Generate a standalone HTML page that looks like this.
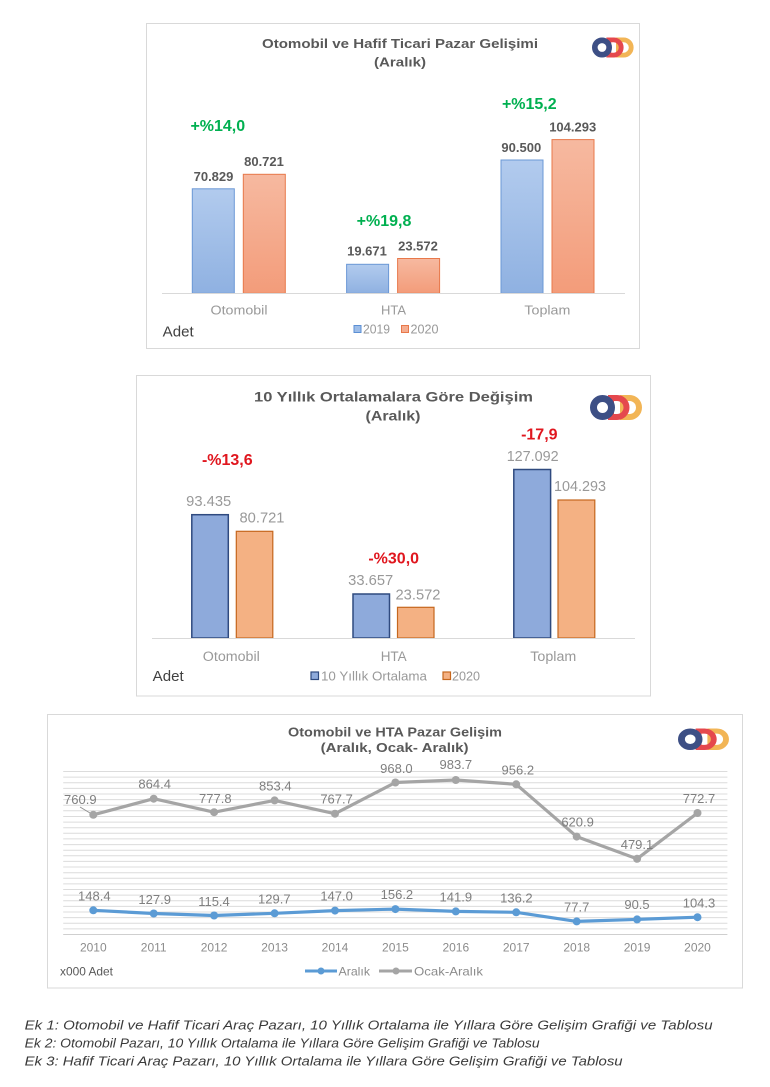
<!DOCTYPE html>
<html>
<head>
<meta charset="utf-8">
<style>
  html, body { margin: 0; padding: 0; background: #ffffff; }
  svg { display: block; }
  text { font-family: "Liberation Sans", "DejaVu Sans", sans-serif; }
</style>
</head>
<body>
<svg width="770" height="1087" viewBox="0 0 770 1087" xmlns="http://www.w3.org/2000/svg">
  <defs>
    <linearGradient id="gb" x1="0" y1="0" x2="0" y2="1">
      <stop offset="0" stop-color="#b2cbee"/>
      <stop offset="1" stop-color="#8fb1e1"/>
    </linearGradient>
    <linearGradient id="go" x1="0" y1="0" x2="0" y2="1">
      <stop offset="0" stop-color="#f6b9a0"/>
      <stop offset="1" stop-color="#f39c7a"/>
    </linearGradient>
    <g id="logo">
      <path d="M33 3 H39.5 A9.5 9.5 0 0 1 39.5 22 H33 Z" fill="none" stroke="#f2b556" stroke-width="6"/>
      <path d="M21 3 H27 A9.5 9.5 0 0 1 27 22 H21 Z" fill="none" stroke="#e5484d" stroke-width="6"/>
      <circle cx="12.5" cy="12.5" r="9" fill="none" stroke="#3d4f85" stroke-width="7"/>
    </g>
  </defs>

  <rect x="0" y="0" width="770" height="1087" fill="#ffffff"/>

  <!-- ================= CHART 1 ================= -->
  <rect x="146.5" y="23.5" width="493" height="325" fill="#ffffff" stroke="#d9d9d9" stroke-width="1"/>
  <text x="400" y="48" font-size="13" font-weight="bold" fill="#595959" text-anchor="middle" textLength="276" lengthAdjust="spacingAndGlyphs">Otomobil ve Hafif Ticari Pazar Gelişimi</text>
  <text x="400" y="66.5" font-size="13" font-weight="bold" fill="#595959" text-anchor="middle" textLength="52" lengthAdjust="spacingAndGlyphs">(Aralık)</text>
  <use href="#logo" transform="translate(592,37.5) scale(0.8)"/>

  <rect x="192.3" y="188.8" width="42" height="104.5" fill="url(#gb)" stroke="#6b98d6" stroke-width="1"/>
  <rect x="243.3" y="174.3" width="42" height="119" fill="url(#go)" stroke="#e8784a" stroke-width="1"/>
  <rect x="346.6" y="264.3" width="42" height="29" fill="url(#gb)" stroke="#6b98d6" stroke-width="1"/>
  <rect x="397.6" y="258.5" width="42" height="34.8" fill="url(#go)" stroke="#e8784a" stroke-width="1"/>
  <rect x="501" y="160" width="42" height="133.3" fill="url(#gb)" stroke="#6b98d6" stroke-width="1"/>
  <rect x="552" y="139.6" width="42" height="153.7" fill="url(#go)" stroke="#e8784a" stroke-width="1"/>
  <line x1="162" y1="293.5" x2="625" y2="293.5" stroke="#d9d9d9" stroke-width="1"/>

  <g font-size="13" font-weight="bold" fill="#595959" text-anchor="middle">
    <text x="213.5" y="181">70.829</text>
    <text x="264" y="166">80.721</text>
    <text x="367" y="255.3">19.671</text>
    <text x="418" y="250.6">23.572</text>
    <text x="521.3" y="152">90.500</text>
    <text x="572.7" y="131.3">104.293</text>
  </g>
  <g font-size="16" font-weight="bold" fill="#00b050" text-anchor="middle">
    <text x="217.8" y="130.8">+%14,0</text>
    <text x="384" y="225.8">+%19,8</text>
    <text x="529.3" y="109.1">+%15,2</text>
  </g>
  <g font-size="13" fill="#999999" text-anchor="middle">
    <text x="239" y="314.7" textLength="57" lengthAdjust="spacingAndGlyphs">Otomobil</text>
    <text x="393.5" y="314.7">HTA</text>
    <text x="547.4" y="314.7" textLength="46" lengthAdjust="spacingAndGlyphs">Toplam</text>
  </g>
  <text x="162.7" y="336.5" font-size="14.5" fill="#404040" textLength="31" lengthAdjust="spacingAndGlyphs">Adet</text>
  <rect x="354" y="325.5" width="7" height="7" fill="#9dbde8" stroke="#5b8fd4" stroke-width="1"/>
  <text x="363" y="333.5" font-size="12.5" fill="#999999" textLength="27" lengthAdjust="spacingAndGlyphs">2019</text>
  <rect x="401.5" y="325.5" width="7" height="7" fill="#f5ad90" stroke="#e8784a" stroke-width="1"/>
  <text x="410.5" y="333.5" font-size="12.5" fill="#999999" textLength="28" lengthAdjust="spacingAndGlyphs">2020</text>

  <!-- ================= CHART 2 ================= -->
  <rect x="136.5" y="375.5" width="514" height="320.5" fill="#ffffff" stroke="#d9d9d9" stroke-width="1"/>
  <text x="393.5" y="401.7" font-size="14" font-weight="bold" fill="#595959" text-anchor="middle" textLength="279" lengthAdjust="spacingAndGlyphs">10 Yıllık Ortalamalara  Göre Değişim</text>
  <text x="393" y="420.7" font-size="14" font-weight="bold" fill="#595959" text-anchor="middle" textLength="55" lengthAdjust="spacingAndGlyphs">(Aralık)</text>
  <use href="#logo" transform="translate(590,395)"/>

  <rect x="191.8" y="514.7" width="36.5" height="123.3" fill="#8eaadb" stroke="#2f4a7f" stroke-width="1.5"/>
  <rect x="236.3" y="531.3" width="36.5" height="106.7" fill="#f4b183" stroke="#c5671e" stroke-width="1.2"/>
  <rect x="353" y="594" width="36.5" height="44" fill="#8eaadb" stroke="#2f4a7f" stroke-width="1.5"/>
  <rect x="397.5" y="607.3" width="36.5" height="30.7" fill="#f4b183" stroke="#c5671e" stroke-width="1.2"/>
  <rect x="513.8" y="469.5" width="36.8" height="168.5" fill="#8eaadb" stroke="#2f4a7f" stroke-width="1.5"/>
  <rect x="558" y="500" width="36.8" height="138" fill="#f4b183" stroke="#c5671e" stroke-width="1.2"/>
  <line x1="152" y1="638.5" x2="635" y2="638.5" stroke="#d9d9d9" stroke-width="1"/>

  <g font-size="14.5" fill="#999999" text-anchor="middle">
    <text x="208.7" y="505.9" textLength="45" lengthAdjust="spacingAndGlyphs">93.435</text>
    <text x="262" y="522.5" textLength="45" lengthAdjust="spacingAndGlyphs">80.721</text>
    <text x="370.7" y="585.2" textLength="45" lengthAdjust="spacingAndGlyphs">33.657</text>
    <text x="418" y="599.5" textLength="45" lengthAdjust="spacingAndGlyphs">23.572</text>
    <text x="532.7" y="461.2" textLength="52" lengthAdjust="spacingAndGlyphs">127.092</text>
    <text x="580" y="491.2" textLength="52" lengthAdjust="spacingAndGlyphs">104.293</text>
  </g>
  <g font-size="16" font-weight="bold" fill="#e0161e" text-anchor="middle">
    <text x="227.3" y="465">-%13,6</text>
    <text x="393.7" y="563.5">-%30,0</text>
    <text x="539.3" y="439.7">-17,9</text>
  </g>
  <g font-size="13.5" fill="#999999" text-anchor="middle">
    <text x="231.3" y="660.8" textLength="57" lengthAdjust="spacingAndGlyphs">Otomobil</text>
    <text x="393.7" y="660.8">HTA</text>
    <text x="553.3" y="660.8" textLength="46" lengthAdjust="spacingAndGlyphs">Toplam</text>
  </g>
  <text x="152.7" y="681" font-size="14.5" fill="#404040" textLength="31" lengthAdjust="spacingAndGlyphs">Adet</text>
  <rect x="311" y="672" width="7.5" height="7.5" fill="#8eaadb" stroke="#2f4a7f" stroke-width="1.2"/>
  <text x="321" y="680.5" font-size="13" fill="#999999" textLength="106" lengthAdjust="spacingAndGlyphs">10 Yıllık Ortalama</text>
  <rect x="443" y="672" width="7.5" height="7.5" fill="#f4b183" stroke="#c5671e" stroke-width="1.2"/>
  <text x="452" y="680.5" font-size="13" fill="#999999" textLength="28" lengthAdjust="spacingAndGlyphs">2020</text>

  <!-- ================= CHART 3 ================= -->
  <rect x="47.5" y="714.5" width="695" height="273.5" fill="#ffffff" stroke="#d9d9d9" stroke-width="1"/>
  <text x="395" y="736.5" font-size="12.5" font-weight="bold" fill="#595959" text-anchor="middle" textLength="214" lengthAdjust="spacingAndGlyphs">Otomobil ve HTA Pazar Gelişim</text>
  <text x="394.6" y="752.2" font-size="12.5" font-weight="bold" fill="#595959" text-anchor="middle" textLength="148" lengthAdjust="spacingAndGlyphs">(Aralık, Ocak- Aralık)</text>
  <use href="#logo" transform="translate(678,728.5) scale(0.98,0.86)"/>

  <g stroke="#dcdcdc" stroke-width="1">
    <line x1="63.2" y1="771.5" x2="727.4" y2="771.5"/>
    <line x1="63.2" y1="777.1" x2="727.4" y2="777.1"/>
    <line x1="63.2" y1="782.7" x2="727.4" y2="782.7"/>
    <line x1="63.2" y1="788.4" x2="727.4" y2="788.4"/>
    <line x1="63.2" y1="794.0" x2="727.4" y2="794.0"/>
    <line x1="63.2" y1="799.6" x2="727.4" y2="799.6"/>
    <line x1="63.2" y1="805.2" x2="727.4" y2="805.2"/>
    <line x1="63.2" y1="810.8" x2="727.4" y2="810.8"/>
    <line x1="63.2" y1="816.5" x2="727.4" y2="816.5"/>
    <line x1="63.2" y1="822.1" x2="727.4" y2="822.1"/>
    <line x1="63.2" y1="827.7" x2="727.4" y2="827.7"/>
    <line x1="63.2" y1="833.3" x2="727.4" y2="833.3"/>
    <line x1="63.2" y1="838.9" x2="727.4" y2="838.9"/>
    <line x1="63.2" y1="844.6" x2="727.4" y2="844.6"/>
    <line x1="63.2" y1="850.2" x2="727.4" y2="850.2"/>
    <line x1="63.2" y1="855.8" x2="727.4" y2="855.8"/>
    <line x1="63.2" y1="861.4" x2="727.4" y2="861.4"/>
    <line x1="63.2" y1="867.0" x2="727.4" y2="867.0"/>
    <line x1="63.2" y1="872.7" x2="727.4" y2="872.7"/>
    <line x1="63.2" y1="878.3" x2="727.4" y2="878.3"/>
    <line x1="63.2" y1="883.9" x2="727.4" y2="883.9"/>
    <line x1="63.2" y1="889.5" x2="727.4" y2="889.5"/>
    <line x1="63.2" y1="895.1" x2="727.4" y2="895.1"/>
    <line x1="63.2" y1="900.8" x2="727.4" y2="900.8"/>
    <line x1="63.2" y1="906.4" x2="727.4" y2="906.4"/>
    <line x1="63.2" y1="912.0" x2="727.4" y2="912.0"/>
    <line x1="63.2" y1="917.6" x2="727.4" y2="917.6"/>
    <line x1="63.2" y1="923.2" x2="727.4" y2="923.2"/>
    <line x1="63.2" y1="928.9" x2="727.4" y2="928.9"/>
  </g>
  <line x1="63.2" y1="934.5" x2="727.4" y2="934.5" stroke="#cfcfcf" stroke-width="1"/>

  <polyline fill="none" stroke="#a5a5a5" stroke-width="3.2" stroke-linejoin="round"
    points="93.3,814.8 153.7,798.7 214.1,812.2 274.6,800.4 335,813.7 395.4,782.5 455.8,780 516.2,784.3 576.7,836.6 637.1,858.8 697.5,813"/>
  <g fill="#a5a5a5">
    <circle cx="93.3" cy="814.8" r="4"/><circle cx="153.7" cy="798.7" r="4"/>
    <circle cx="214.1" cy="812.2" r="4"/><circle cx="274.6" cy="800.4" r="4"/>
    <circle cx="335" cy="813.7" r="4"/><circle cx="395.4" cy="782.5" r="4"/>
    <circle cx="455.8" cy="780" r="4"/><circle cx="516.2" cy="784.3" r="4"/>
    <circle cx="576.7" cy="836.6" r="4"/><circle cx="637.1" cy="858.8" r="4"/>
    <circle cx="697.5" cy="813" r="4"/>
  </g>
  <line x1="80" y1="807" x2="90" y2="813" stroke="#8c8c8c" stroke-width="0.8"/>

  <polyline fill="none" stroke="#5b9bd5" stroke-width="3.2" stroke-linejoin="round"
    points="93.3,910.3 153.7,913.5 214.1,915.5 274.6,913.3 335,910.6 395.4,909.1 455.8,911.4 516.2,912.3 576.7,921.4 637.1,919.4 697.5,917.2"/>
  <g fill="#5b9bd5">
    <circle cx="93.3" cy="910.3" r="4"/><circle cx="153.7" cy="913.5" r="4"/>
    <circle cx="214.1" cy="915.5" r="4"/><circle cx="274.6" cy="913.3" r="4"/>
    <circle cx="335" cy="910.6" r="4"/><circle cx="395.4" cy="909.1" r="4"/>
    <circle cx="455.8" cy="911.4" r="4"/><circle cx="516.2" cy="912.3" r="4"/>
    <circle cx="576.7" cy="921.4" r="4"/><circle cx="637.1" cy="919.4" r="4"/>
    <circle cx="697.5" cy="917.2" r="4"/>
  </g>

  <g font-size="13" fill="#7f7f7f" text-anchor="middle">
    <text x="80.3" y="804">760.9</text>
    <text x="154.7" y="788.7">864.4</text>
    <text x="215.3" y="803">777.8</text>
    <text x="275.3" y="790.7">853.4</text>
    <text x="336.6" y="803.7">767.7</text>
    <text x="396.4" y="773">968.0</text>
    <text x="455.8" y="769">983.7</text>
    <text x="517.8" y="774.7">956.2</text>
    <text x="577.6" y="826.7">620.9</text>
    <text x="637" y="849">479.1</text>
    <text x="699" y="803">772.7</text>

    <text x="94.3" y="900.7">148.4</text>
    <text x="154.7" y="904">127.9</text>
    <text x="214" y="906">115.4</text>
    <text x="274.3" y="903.4">129.7</text>
    <text x="336.6" y="900.7">147.0</text>
    <text x="396.9" y="899">156.2</text>
    <text x="455.8" y="901.4">141.9</text>
    <text x="516.4" y="902.7">136.2</text>
    <text x="576.7" y="911.4">77.7</text>
    <text x="637" y="909">90.5</text>
    <text x="699" y="907.4">104.3</text>
  </g>

  <g font-size="12" fill="#8c8c8c" text-anchor="middle">
    <text x="93.3" y="951.6">2010</text>
    <text x="153.7" y="951.6">2011</text>
    <text x="214.1" y="951.6">2012</text>
    <text x="274.6" y="951.6">2013</text>
    <text x="335" y="951.6">2014</text>
    <text x="395.4" y="951.6">2015</text>
    <text x="455.8" y="951.6">2016</text>
    <text x="516.2" y="951.6">2017</text>
    <text x="576.7" y="951.6">2018</text>
    <text x="637.1" y="951.6">2019</text>
    <text x="697.5" y="951.6">2020</text>
  </g>
  <text x="60" y="975.3" font-size="12" fill="#595959" textLength="53" lengthAdjust="spacingAndGlyphs">x000 Adet</text>

  <line x1="305" y1="971" x2="337" y2="971" stroke="#5b9bd5" stroke-width="3"/>
  <circle cx="321" cy="971" r="3.5" fill="#5b9bd5"/>
  <text x="338.5" y="975.3" font-size="12" fill="#8c8c8c" textLength="31.5" lengthAdjust="spacingAndGlyphs">Aralık</text>
  <line x1="379" y1="971" x2="412" y2="971" stroke="#a5a5a5" stroke-width="3"/>
  <circle cx="396" cy="971" r="3.5" fill="#a5a5a5"/>
  <text x="414" y="975.3" font-size="12" fill="#8c8c8c" textLength="69" lengthAdjust="spacingAndGlyphs">Ocak-Aralık</text>

  <!-- ================= CAPTIONS ================= -->
  <g font-size="13" font-style="italic" fill="#3a3a3a">
    <text x="24.6" y="1029.5" textLength="688" lengthAdjust="spacingAndGlyphs">Ek 1: Otomobil ve Hafif Ticari Araç Pazarı, 10 Yıllık Ortalama ile Yıllara Göre Gelişim Grafiği ve Tablosu</text>
    <text x="24.6" y="1047.5" textLength="515" lengthAdjust="spacingAndGlyphs">Ek 2: Otomobil Pazarı, 10 Yıllık Ortalama ile Yıllara Göre Gelişim Grafiği ve Tablosu</text>
    <text x="24.6" y="1065.5" textLength="598" lengthAdjust="spacingAndGlyphs">Ek 3: Hafif Ticari Araç Pazarı, 10 Yıllık Ortalama ile Yıllara Göre Gelişim Grafiği ve Tablosu</text>
  </g>
</svg>
</body>
</html>
